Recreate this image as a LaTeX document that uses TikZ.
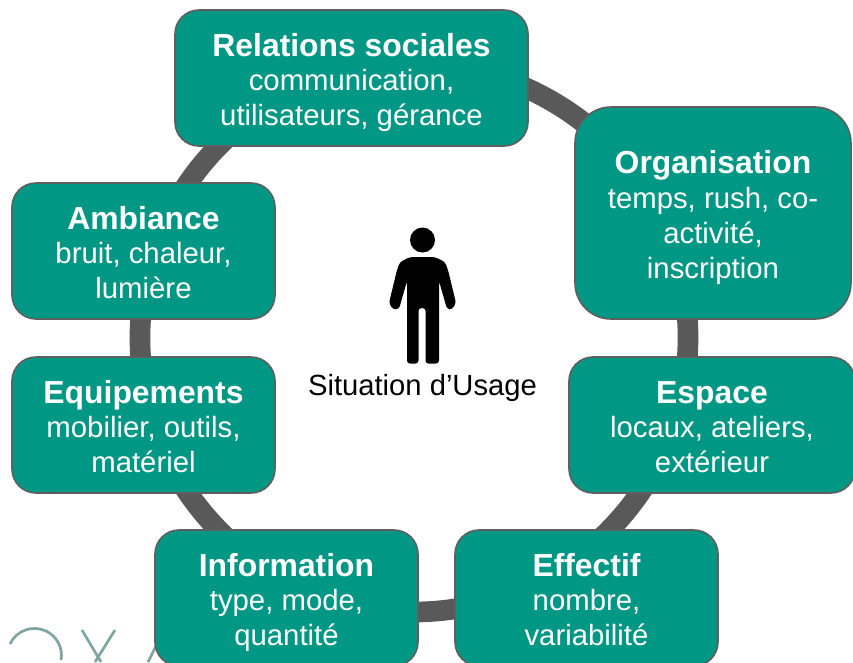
\documentclass[tikz,border=0pt]{standalone}
\usepackage{fontspec}
\setmainfont{Liberation Sans}
\usetikzlibrary{backgrounds}
\definecolor{tealbox}{HTML}{009784}
\definecolor{boxedge}{HTML}{5F5F5F}
\definecolor{ringgrey}{HTML}{595959}
\definecolor{logoteal}{HTML}{7FA5A1}
\tikzset{
  x=0.75pt,y=-0.75pt,
  catbox/.style n args={3}{draw=boxedge,line width=1.2pt,fill=tealbox,text=white,align=center,inner sep=0pt,
     minimum width=#1*0.75pt,minimum height=#2*0.75pt,rounded corners=#3*0.75pt,
     font=\fontsize{22}{26.2}\selectfont},
  ringseg/.style={draw=ringgrey,line width=15.5pt,looseness=0.85},
  logostroke/.style={draw=logoteal,line width=2pt},
  caption/.style={inner sep=0pt,font=\fontsize{21.9}{24}\selectfont,text=black}
}
\newcommand{\hd}[1]{\rule{0pt}{25.4pt}{\fontsize{23.9}{26.2}\selectfont\bfseries #1}}
\newcommand{\lastl}[1]{#1\rule[-6pt]{0pt}{6pt}}
\begin{document}
\begin{tikzpicture}
\useasboundingbox (0,0) rectangle (853,662);
\clip (0,0) rectangle (853,662);
% logo fragment
\draw[logostroke] (10,644) arc[start angle=-155,end angle=10,radius=27];
\draw[logostroke] (82,630) -- (101,662);
\draw[logostroke] (115,630) -- (95,662);
\draw[logostroke] (158,642) -- (148,662);
% boxes
\node[catbox={353}{136}{24}] (rel) at (351.5,78) {\hd{Relations sociales}\\communication,\\\lastl{utilisateurs, gérance}};
\node[catbox={276}{212}{36}] (org) at (713,213) {\hd{Organisation}\\temps, rush, co-\\activité,\\\lastl{inscription}};
\node[catbox={286}{136}{24}] (esp) at (712,425) {\hd{Espace}\\locaux, ateliers,\\\lastl{extérieur}};
\node[catbox={263}{136}{24}] (eff) at (586.5,598) {\hd{Effectif}\\nombre,\\\lastl{variabilité}};
\node[catbox={263}{136}{24}] (inf) at (286.5,598) {\hd{Information}\\type, mode,\\\lastl{quantité}};
\node[catbox={263}{136}{24}] (equ) at (143.5,425) {\hd{Equipements}\\mobilier, outils,\\\lastl{matériel}};
\node[catbox={263}{136}{24}] (amb) at (143.5,251) {\hd{Ambiance}\\bruit, chaleur,\\\lastl{lumière}};
% ring segments, behind the boxes
\begin{scope}[on background layer]
\draw[ringseg] ([shift={(156,2.5)}]rel.center) to[bend left=12.5] ([shift={(-105,-69)}]org.center);
\draw[ringseg] ([shift={(-26,101)}]org.center) to[bend left=7.5] ([shift={(-28.2,-39.4)}]esp.center);
\draw[ringseg] ([shift={(-60.7,50)}]esp.center) to[bend left=12.5] ([shift={(-15.3,-35.6)}]eff.center);
\draw[ringseg] ([shift={(-124.9,9.8)}]eff.center) to[bend left=7.5] ([shift={(103.6,13)}]inf.center);
\draw[ringseg] ([shift={(-48.6,-50.1)}]inf.center) to[bend left=10] ([shift={(33.2,50)}]equ.center);
\draw[ringseg] ([shift={(-2.5,-63.1)}]equ.center) to[bend left=5] ([shift={(-2.5,63.1)}]amb.center);
\draw[ringseg] ([shift={(33.2,-50)}]amb.center) to[bend left=12.5] ([shift={(-94.7,35.6)}]rel.center);
\end{scope}
% person
\fill[black] (422.5,240) circle[radius=12.5];
\fill[black,rounded corners=2.2pt] (410,257) -- (435,257) -- (445,262) -- (448,270) -- (456,303) -- (452,309.5) -- (447,309) -- (439,281) -- (439,363.5) -- (425.5,363.5) -- (425.5,308) -- (418.5,308) -- (418.5,363.5) -- (407,363.5) -- (407,281) -- (399,309) -- (393,309.5) -- (389,303) -- (397,270) -- (400,262) -- cycle;
\node[caption] (cap) at (422.5,388) {Situation d’Usage};
\end{tikzpicture}
\end{document}
